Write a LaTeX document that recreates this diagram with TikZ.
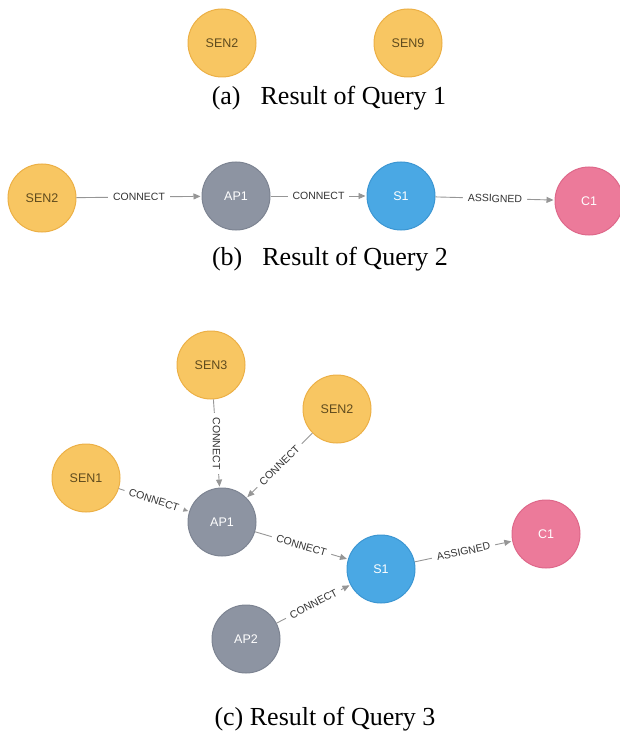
\documentclass[tikz,border=0pt]{standalone}
\usepackage{fontspec}
\setmainfont{Liberation Serif}
\newfontfamily\arialf{Liberation Sans}
\usetikzlibrary{arrows.meta}
\definecolor{ylw}{RGB}{248,198,98}
\definecolor{ylwb}{RGB}{236,176,70}
\definecolor{gry}{RGB}{141,148,162}
\definecolor{gryb}{RGB}{125,132,146}
\definecolor{blu}{RGB}{74,168,228}
\definecolor{blub}{RGB}{60,150,210}
\definecolor{pnk}{RGB}{236,122,154}
\definecolor{pnkb}{RGB}{222,104,138}
\definecolor{ytxt}{RGB}{95,75,30}
\definecolor{edg}{RGB}{150,150,150}
\tikzset{
  gnode/.style={circle, minimum size=68pt, inner sep=0pt, line width=1pt, font=\arialf\fontsize{12.5}{12.5}\selectfont},
  ynode/.style={gnode, fill=ylw, draw=ylwb, text=ytxt},
  anode/.style={gnode, fill=gry, draw=gryb, text=white},
  bnode/.style={gnode, fill=blu, draw=blub, text=white},
  pnode/.style={gnode, fill=pnk, draw=pnkb, text=white},
  rel/.style={draw=edg, line width=0.9pt, -{Triangle[length=7pt,width=6pt]}, shorten >=1pt},
  rlab/.style={fill=white, inner xsep=5pt, inner ysep=2pt, text=black!80, font=\arialf\fontsize{10.5}{10.5}\selectfont},
  captxt/.style={anchor=base, inner sep=0pt, font=\fontsize{26}{26}\selectfont, text=black}
}
\begin{document}
\begin{tikzpicture}[x=1pt,y=-1pt]
\useasboundingbox (0,0) rectangle (619,735);
% (a)
\node[ynode] (a1) at (222,43) {SEN2};
\node[ynode] (a2) at (408,43) {SEN9};
\node[captxt] (capa) at (329,105) {(a)\hspace{20pt}Result of Query 1};
% (b)
\node[ynode] (b1) at (42,198) {SEN2};
\node[anode] (b2) at (236,196) {AP1};
\node[bnode] (b3) at (401,196) {S1};
\node[pnode] (b4) at (589,201) {C1};
\draw[rel] (b1) -- node[rlab, sloped] {CONNECT} (b2);
\draw[rel] (b2) -- node[rlab, sloped] {CONNECT} (b3);
\draw[rel] (b3) -- node[rlab, sloped] {ASSIGNED} (b4);
\node[captxt] (capb) at (330,265) {(b)\hspace{20pt}Result of Query 2};
% (c)
\node[ynode] (c3) at (211,365) {SEN3};
\node[ynode] (c2) at (337,409) {SEN2};
\node[ynode] (c1) at (86,478) {SEN1};
\node[anode] (ap1) at (222,522) {AP1};
\node[bnode] (s1) at (381,569) {S1};
\node[pnode] (cc1) at (546,534) {C1};
\node[anode] (ap2) at (246,639) {AP2};
\draw[rel] (c3) -- node[rlab, rotate=-90] {CONNECT} (ap1);
\draw[rel] (c2) -- node[rlab, sloped] {CONNECT} (ap1);
\draw[rel] (c1) -- node[rlab, sloped] {CONNECT} (ap1);
\draw[rel] (ap1) -- node[rlab, sloped] {CONNECT} (s1);
\draw[rel] (ap2) -- node[rlab, sloped] {CONNECT} (s1);
\draw[rel] (s1) -- node[rlab, sloped] {ASSIGNED} (cc1);
\node[captxt] (capc) at (325,725) {(c) Result of Query 3};
\end{tikzpicture}
\end{document}
